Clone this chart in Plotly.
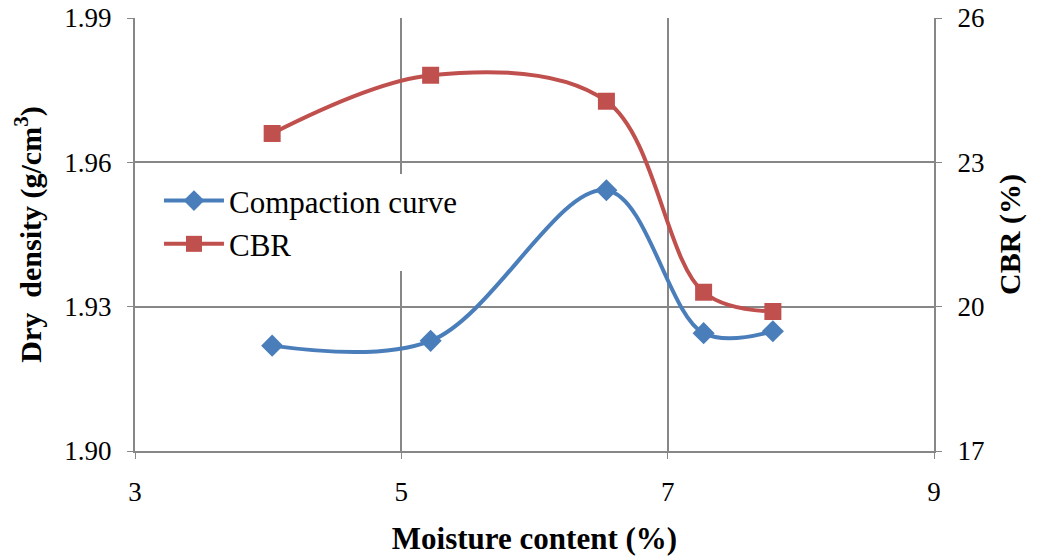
import plotly.graph_objects as go

moisture_compaction = [4.03, 5.22, 6.54, 7.27, 7.79]
dry_density = [1.9219, 1.9229, 1.9542, 1.9245, 1.9249]
moisture_cbr = [4.03, 5.22, 6.54, 7.27, 7.79]
cbr = [23.6, 24.81, 24.27, 20.3, 19.9]

x_ticks = [3, 5, 7, 9]
y1_ticks = [1.90, 1.93, 1.96, 1.99]
y1_labels = ["1.90", "1.93", "1.96", "1.99"]
y2_ticks = [17, 20, 23, 26]

FONT = "Liberation Serif, Times New Roman, serif"
GRID = "#878787"

fig = go.Figure()
fig.add_trace(go.Scatter(
    x=moisture_compaction, y=dry_density, name="Compaction curve",
    mode="lines+markers", line=dict(color="#4A7EBB", width=4, shape="spline", smoothing=1),
    marker=dict(symbol="diamond", size=17, color="#4A7EBB"), yaxis="y"))
fig.add_trace(go.Scatter(
    x=moisture_cbr, y=cbr, name="CBR",
    mode="lines+markers", line=dict(color="#C0504D", width=4, shape="spline", smoothing=1),
    marker=dict(symbol="square", size=17, color="#C0504D"), yaxis="y2"))

fig.update_layout(
    width=1039, height=556,
    margin=dict(l=135, r=105, t=18, b=105),
    paper_bgcolor="white", plot_bgcolor="white",
    font=dict(family=FONT, size=27, color="black"),
    showlegend=True,
    legend=dict(x=0.03, y=0.64, xanchor="left", yanchor="top", bgcolor="white",
                font=dict(family=FONT, size=31), itemwidth=60),
    xaxis=dict(range=[3, 9], tickvals=x_ticks, showgrid=True, gridcolor=GRID, gridwidth=2,
               showline=True, linecolor=GRID, linewidth=2, ticks="outside", ticklen=6,
               tickcolor=GRID, tickfont=dict(size=27), zeroline=False, automargin=False,
               ticklabelstandoff=10,
               title=dict(text="<b>Moisture content (%)</b>", font=dict(size=31), standoff=28)),
    yaxis=dict(range=[1.90, 1.99], tickvals=y1_ticks, ticktext=y1_labels, showgrid=True,
               gridcolor=GRID, gridwidth=2, showline=True, linecolor=GRID, linewidth=2,
               ticks="outside", ticklen=6, tickcolor=GRID, tickfont=dict(size=27),
               zeroline=False, automargin=False, ticklabelstandoff=10,
               title=dict(text="<b>Dry  density (g/cm<sup>3</sup>)</b>", font=dict(size=30), standoff=14)),
    yaxis2=dict(range=[17, 26], tickvals=y2_ticks, overlaying="y", side="right",
                showgrid=False, showline=True, linecolor=GRID, linewidth=2,
                ticks="outside", ticklen=6, tickcolor=GRID, tickfont=dict(size=27),
                zeroline=False, automargin=False, ticklabelstandoff=10,
                title=dict(text="<b>CBR (%)</b>", font=dict(size=30), standoff=16)),
)

fig.write_html("out.html")
